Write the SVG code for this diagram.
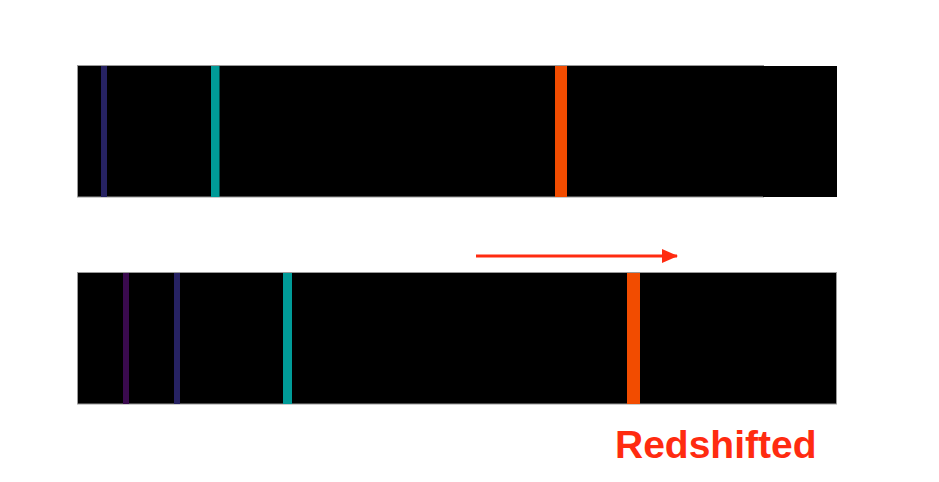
<svg xmlns="http://www.w3.org/2000/svg" width="939" height="482" viewBox="0 0 939 482">
<style>
.bar{fill:#000;stroke:#9a9a9a;stroke-width:1}
.lbl{font-family:"Liberation Sans",Arial,sans-serif;font-weight:bold;font-size:39px;fill:#ff2b10}
</style>
<defs>
<marker id="ah" markerWidth="16" markerHeight="14" refX="15" refY="7" orient="auto" markerUnits="userSpaceOnUse">
<path d="M0,0 L16,7 L0,14 Z" fill="#ff2b10"/>
</marker>
</defs>
<rect width="939" height="482" fill="#fff"/>
<g id="top-spectrum">
<rect x="77.5" y="65.5" width="686" height="131.5" class="bar"/>
<rect x="763" y="66" width="74" height="131" fill="#000"/>
<rect x="101" y="66" width="6" height="131" fill="#262262"/>
<rect x="211" y="66" width="8.5" height="131" fill="#009b98"/>
<rect x="555" y="66" width="12" height="131" fill="#f24c00"/>
</g>
<g id="bottom-spectrum">
<rect x="77.5" y="272.5" width="759" height="131.5" class="bar"/>
<rect x="123" y="273" width="6" height="131" fill="#3a0a4e"/>
<rect x="174" y="273" width="6" height="131" fill="#262262"/>
<rect x="283" y="273" width="9" height="131" fill="#009b98"/>
<rect x="627" y="273" width="13" height="131" fill="#f24c00"/>
</g>
<g id="connectors">
<line x1="476" y1="256" x2="677" y2="256" stroke="#ff2b10" stroke-width="3" marker-end="url(#ah)"/>
</g>
<g id="label">
<text x="615" y="458" class="lbl">Redshifted</text>
</g>
</svg>
